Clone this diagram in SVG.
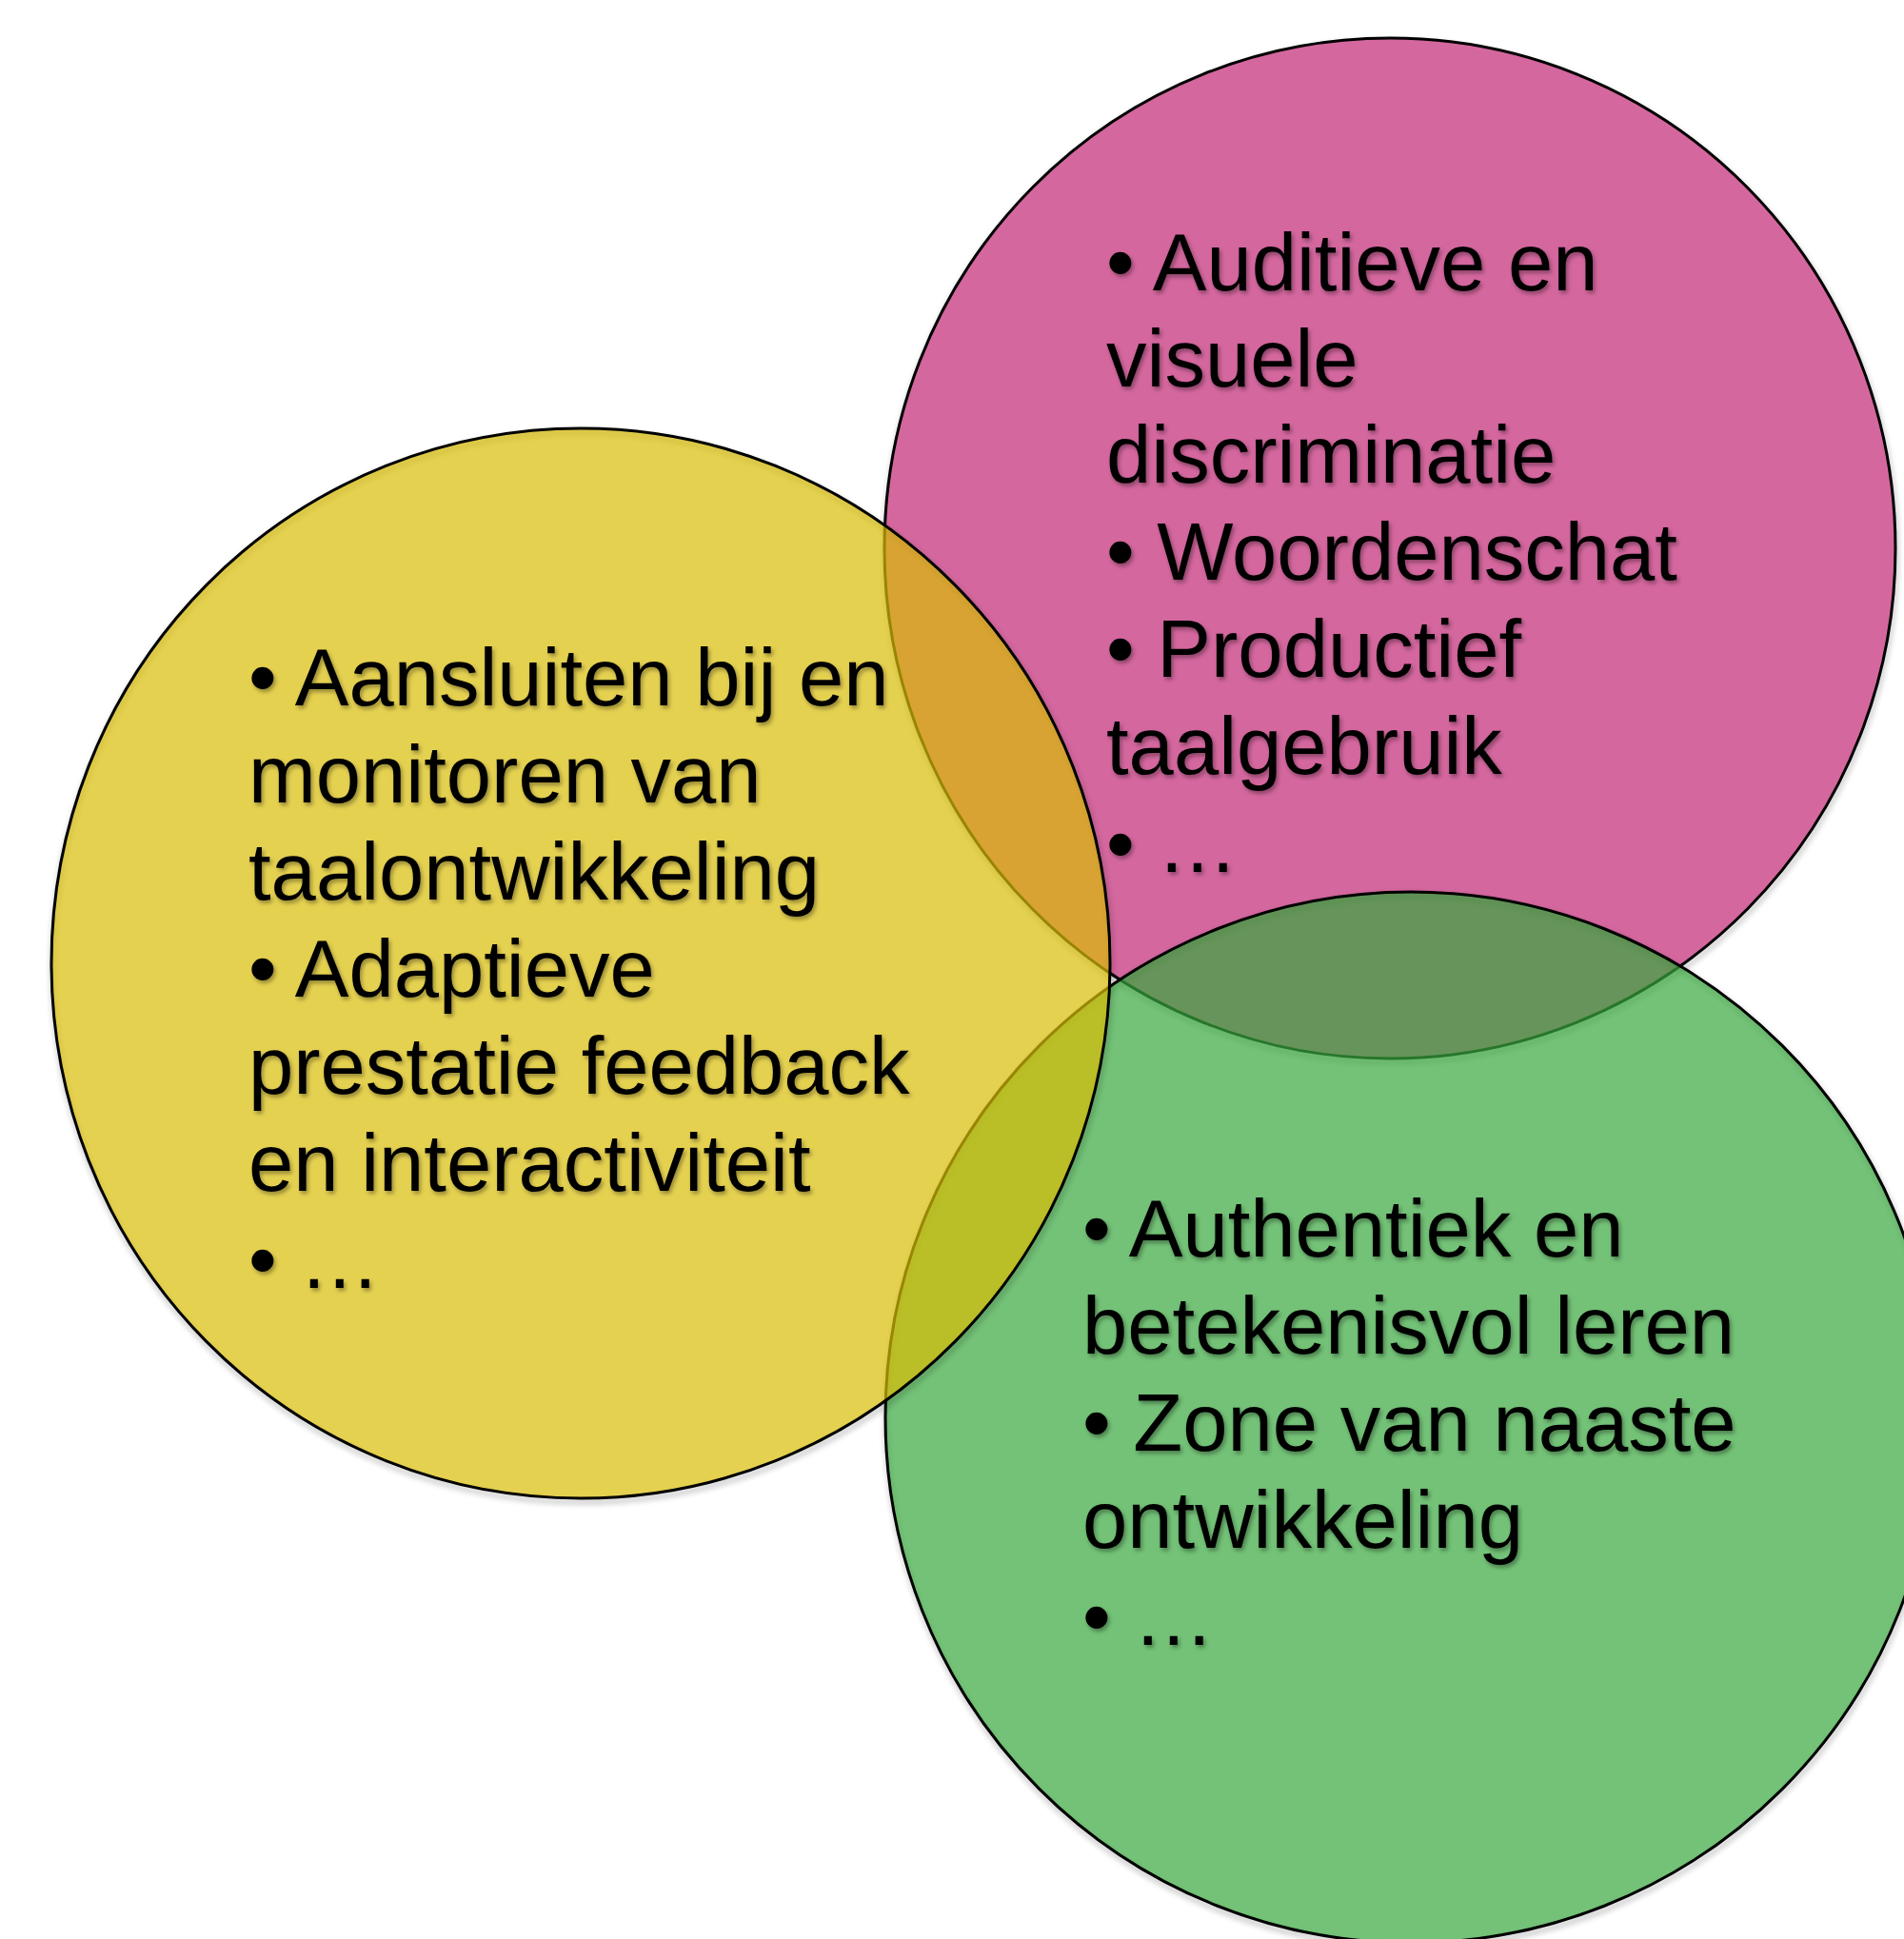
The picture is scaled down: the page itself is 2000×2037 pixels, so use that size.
<svg xmlns="http://www.w3.org/2000/svg" width="2000" height="2037" viewBox="0 0 2000 2037">
<defs>
<style>
.lbl{font-family:"Liberation Sans",Arial,Helvetica,sans-serif;font-size:85px;fill:#000;filter:url(#tsh)}
.ring{fill:none;stroke:#000;stroke-width:3;opacity:0.35;filter:url(#csh)}
.outline{stroke:#000;stroke-width:3}
</style>
<filter id="tsh" x="-10%" y="-30%" width="120%" height="160%">
<feDropShadow dx="2" dy="3" stdDeviation="2" flood-color="#000" flood-opacity="0.35"/>
</filter>
<filter id="csh" x="-10%" y="-10%" width="120%" height="120%">
<feGaussianBlur stdDeviation="3"/>
</filter>
</defs>
<rect width="2000" height="2037" fill="#fff"/>
<g id="pink">
<ellipse class="ring" cx="1461" cy="580" rx="531" ry="536"/>
<ellipse class="outline" cx="1460" cy="576" rx="531" ry="536" fill="#D4679E"/>
</g>
<g id="green">
<circle class="ring" cx="1483" cy="1493" r="552"/>
<circle class="outline" cx="1482" cy="1489" r="552" fill="rgb(56,168,61)" fill-opacity="0.7"/>
</g>
<g id="yellow">
<ellipse class="ring" cx="611" cy="1016" rx="556" ry="562"/>
<ellipse class="outline" cx="610" cy="1012" rx="556" ry="562" fill="rgb(218,189,5)" fill-opacity="0.7"/>
</g>
<g id="connectors"/>
<g id="pink-text">
<text class="lbl" x="1162" y="305">• Auditieve en</text>
<text class="lbl" x="1162" y="406">visuele</text>
<text class="lbl" x="1162" y="507">discriminatie</text>
<text class="lbl" x="1162" y="609">• Woordenschat</text>
<text class="lbl" x="1162" y="711">• Productief</text>
<text class="lbl" x="1162" y="813">taalgebruik</text>
<text class="lbl" x="1162" y="916">• …</text>
</g>
<g id="yellow-text">
<text class="lbl" x="261" y="741">• Aansluiten bij en</text>
<text class="lbl" x="261" y="843">monitoren van</text>
<text class="lbl" x="261" y="945">taalontwikkeling</text>
<text class="lbl" x="261" y="1047">• Adaptieve</text>
<text class="lbl" x="261" y="1149">prestatie feedback</text>
<text class="lbl" x="261" y="1251">en interactiviteit</text>
<text class="lbl" x="261" y="1353">• …</text>
</g>
<g id="green-text">
<text class="lbl" x="1137" y="1320">• Authentiek en</text>
<text class="lbl" x="1137" y="1422">betekenisvol leren</text>
<text class="lbl" x="1137" y="1524">• Zone van naaste</text>
<text class="lbl" x="1137" y="1626">ontwikkeling</text>
<text class="lbl" x="1137" y="1728">• …</text>
</g>
</svg>
